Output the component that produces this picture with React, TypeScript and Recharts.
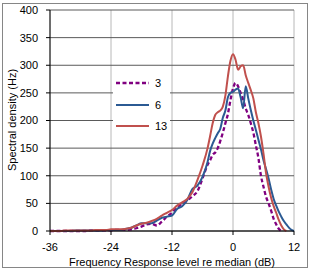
import { CartesianGrid, Line, LineChart, XAxis, YAxis } from "recharts";

// frequency response level re median (dB)
const LEVEL_DB = [
  -36, -35, -34, -33, -32, -31, -30, -29, -28, -27, -26, -25, -24, -23, -22, -21,
  -20, -19, -18, -17, -16, -15, -14, -13, -12, -11, -10, -9, -8, -7, -6, -5,
  -4.5, -4, -3.5, -3, -2.5, -2, -1.5, -1, -0.5, 0, 0.5, 1, 1.5, 2, 2.5, 3,
  3.5, 4, 4.5, 5, 5.5, 6, 6.5, 7, 7.5, 8, 8.5, 9, 9.5, 10, 10.5, 11, 11.5, 12,
];

// spectral density (Hz), one list per series
const DENSITY_3 = [
  0, 0, 0, 0, 0, 0, 0, 0, 1, 1, 1, 1, 1, 2, 2, 2,
  3, 5, 8, 12, 13, 10, 17, 26, 33, 42, 50, 55, 63, 72, 95, 120,
  128, 138, 142, 150, 163, 178, 195, 212, 237, 258, 268, 262, 250, 238, 222, 210,
  195, 178, 155, 132, 100, 80, 62, 50, 37, 22, 12, 4, 0, null, null, null, null, null,
];

const DENSITY_6 = [
  0, 0, 0, 0, 0, 1, 1, 1, 1, 1, 1, 2, 2, 2, 2, 4,
  6, 10, 14, 14, 14, 19, 24, 26, 28, 40, 45, 56, 76, 82, 98, 125,
  145, 158, 168, 177, 185, 205, 218, 242, 250, 252, 256, 258, 242, 222, 262, 240,
  219, 200, 183, 165, 148, 128, 112, 95, 75, 58, 46, 35, 26, 18, 12, 6, 2, 0,
];

const DENSITY_13 = [
  0, 0, 0, 1, 1, 1, 1, 1, 1, 2, 2, 2, 3, 3, 3, 4,
  6, 10, 13, 15, 18, 22, 28, 33, 38, 46, 52, 58, 70, 92, 118, 150,
  172, 195, 210, 215, 218, 225, 245, 280, 308, 320, 310, 292, 298, 300, 282, 268,
  255, 240, 215, 195, 171, 140, 105, 80, 60, 45, 33, 20, 10, 3, 0, null, null, null,
];

const X_TICKS = [-36, -24, -12, 0, 12];
const Y_TICKS = [0, 50, 100, 150, 200, 250, 300, 350, 400];

const SERIES = [
  { key: "s3", name: "3", color: "#800080", dash: "4 2.5", width: 2.3 },
  { key: "s6", name: "6", color: "#2b5a93", dash: undefined, width: 2 },
  { key: "s13", name: "13", color: "#c0504d", dash: undefined, width: 2 },
];

const FONT = '"Liberation Sans", Arial, sans-serif';

const data = LEVEL_DB.map((level, i) => ({
  level,
  s3: DENSITY_3[i],
  s6: DENSITY_6[i],
  s13: DENSITY_13[i],
}));

const tickStyle = { fontSize: 11, fill: "#000", fontFamily: FONT };

export default function App() {
  return (
    <div
      style={{
        position: "absolute",
        left: 0,
        top: 0,
        width: 313,
        height: 273,
        background: "#fff",
        fontFamily: FONT,
      }}
    >
      <div
        style={{
          position: "absolute",
          left: 2,
          top: 3,
          width: 304,
          height: 263,
          border: "1px solid #868686",
        }}
      />
      <div style={{ position: "absolute", left: 0, top: 0 }}>
        <LineChart
          width={313}
          height={273}
          data={data}
          margin={{ top: 10, right: 19, bottom: 0, left: 0 }}
        >
          <CartesianGrid horizontal={false} stroke="#b8b8b8" />
          <CartesianGrid vertical={false} stroke="#5a5a5a" />
          <XAxis
            dataKey="level"
            type="number"
            domain={[-36, 12]}
            ticks={X_TICKS}
            height={42}
            tick={tickStyle}
            tickSize={4}
            tickMargin={8}
            axisLine={{ stroke: "#000" }}
            tickLine={{ stroke: "#000" }}
          />
          <YAxis
            type="number"
            domain={[0, 400]}
            ticks={Y_TICKS}
            width={50}
            tick={tickStyle}
            tickSize={4}
            tickMargin={8}
            axisLine={{ stroke: "#000" }}
            tickLine={{ stroke: "#000" }}
          />
          {SERIES.map((s) => (
            <Line
              key={s.key}
              dataKey={s.key}
              name={s.name}
              type="monotone"
              stroke={s.color}
              strokeWidth={s.width}
              strokeDasharray={s.dash}
              dot={false}
              activeDot={false}
              isAnimationActive={false}
            />
          ))}
        </LineChart>
      </div>

      {/* legend box sits inside the plot, between the -24 and -12 gridlines */}
      <div
        style={{
          position: "absolute",
          left: 113,
          top: 71,
          width: 57,
          height: 67,
          background: "#fff",
        }}
      >
        {SERIES.map((s, i) => (
          <div
            key={s.key}
            style={{
              position: "absolute",
              left: 0,
              top: 4 + i * 21.5,
              height: 16,
              width: 57,
            }}
          >
            <svg width={40} height={16} style={{ position: "absolute", left: 0, top: 0 }}>
              <line
                x1={3}
                y1={8}
                x2={36}
                y2={8}
                stroke={s.color}
                strokeWidth={s.width}
                strokeDasharray={s.dash}
              />
            </svg>
            <span
              style={{
                position: "absolute",
                left: 42,
                top: 1,
                fontSize: 11,
                lineHeight: "14px",
                color: "#000",
              }}
            >
              {s.name}
            </span>
          </div>
        ))}
      </div>

      <div
        style={{
          position: "absolute",
          left: 12,
          top: 120,
          transform: "translate(-50%, -50%) rotate(-90deg)",
          fontSize: 11,
          lineHeight: "12px",
          whiteSpace: "nowrap",
          color: "#000",
        }}
      >
        Spectral density (Hz)
      </div>
      <div
        style={{
          position: "absolute",
          left: 172,
          top: 262,
          transform: "translate(-50%, -50%)",
          fontSize: 11,
          lineHeight: "12px",
          whiteSpace: "nowrap",
          color: "#000",
        }}
      >
        Frequency Response level re median (dB)
      </div>
    </div>
  );
}
